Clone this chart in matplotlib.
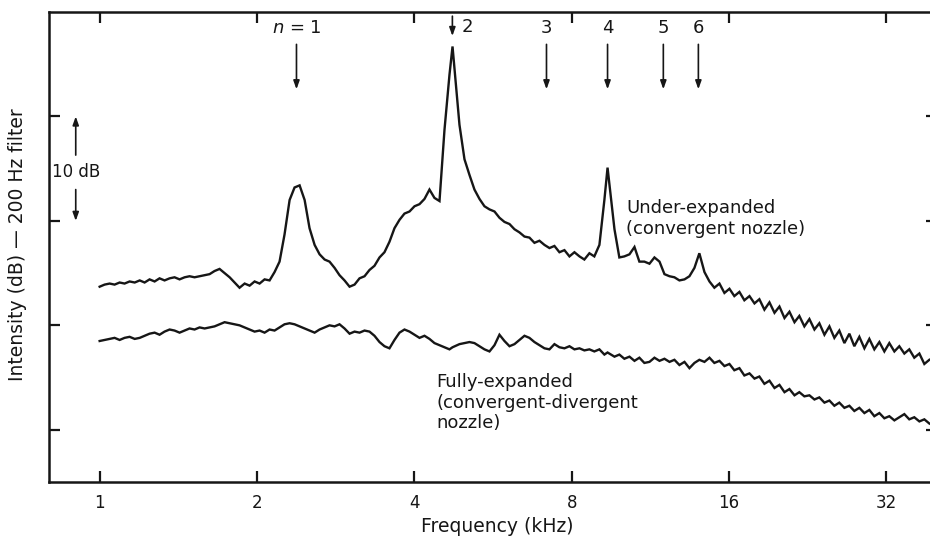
import matplotlib
matplotlib.use("Agg")
import matplotlib.pyplot as plt
from matplotlib.ticker import FixedLocator, FixedFormatter, NullLocator

# ---------------- data ----------------
freq_khz = [
    1.000, 1.022, 1.045, 1.068, 1.092, 1.116, 1.141, 1.167, 1.193, 1.219,
    1.246, 1.274, 1.302, 1.331, 1.361, 1.391, 1.422, 1.454, 1.486, 1.519,
    1.553, 1.588, 1.623, 1.659, 1.696, 1.734, 1.773, 1.812, 1.852, 1.894,
    1.936, 1.979, 2.023, 2.068, 2.114, 2.161, 2.209, 2.258, 2.309, 2.360,
    2.413, 2.467, 2.521, 2.578, 2.635, 2.694, 2.753, 2.815, 2.877, 2.941,
    3.007, 3.074, 3.142, 3.212, 3.283, 3.356, 3.431, 3.507, 3.585, 3.665,
    3.747, 3.830, 3.916, 4.003, 4.092, 4.183, 4.276, 4.371, 4.469, 4.568,
    4.670, 4.733, 4.880, 4.989, 5.100, 5.213, 5.330, 5.448, 5.570, 5.694,
    5.820, 5.950, 6.083, 6.218, 6.356, 6.498, 6.642, 6.790, 6.941, 7.096,
    7.254, 7.415, 7.580, 7.749, 7.922, 8.098, 8.28, 8.46, 8.65, 8.84,
    9.04, 9.24, 9.37, 9.66, 9.87, 10.09, 10.32, 10.55, 10.78, 11.02,
    11.27, 11.52, 11.78, 12.04, 12.31, 12.58, 12.86, 13.15, 13.44, 13.74,
    14.04, 14.36, 14.68, 15.00, 15.34, 15.68, 16.03, 16.38, 16.75, 17.12,
    17.51, 17.90, 18.29, 18.70, 19.12, 19.55, 19.98, 20.43, 20.88, 21.35,
    21.81, 22.30, 22.80, 23.31, 23.82, 24.36, 24.90, 25.45, 26.01, 26.60,
    27.19, 27.79, 28.41, 29.05, 29.69, 30.35, 31.03, 31.72, 32.42, 33.15,
    33.88, 34.64, 35.40, 36.19, 37.01, 37.83, 38.67,
]

under_expanded_db = [
    23.7, 23.9, 24.0, 23.9, 24.1, 24.0, 24.2, 24.1, 24.3, 24.1,
    24.4, 24.2, 24.5, 24.3, 24.5, 24.6, 24.4, 24.6, 24.7, 24.6,
    24.7, 24.8, 24.9, 25.2, 25.4, 25.0, 24.6, 24.1, 23.6, 24.0,
    23.8, 24.2, 24.0, 24.4, 24.3, 25.1, 26.1, 28.7, 32.0, 33.2,
    33.4, 32.0, 29.3, 27.7, 26.8, 26.3, 26.1, 25.5, 24.8, 24.3,
    23.7, 23.9, 24.5, 24.7, 25.3, 25.7, 26.5, 27.0, 28.0, 29.3,
    30.1, 30.7, 30.9, 31.4, 31.6, 32.1, 33.0, 32.2, 31.9, 38.7,
    44.0, 46.7, 39.2, 35.9, 34.4, 33.0, 32.1, 31.4, 31.1, 30.9,
    30.3, 29.9, 29.7, 29.2, 28.9, 28.5, 28.4, 27.9, 28.1, 27.7,
    27.4, 27.6, 27.0, 27.2, 26.6, 27.0, 26.6, 26.3, 26.9, 26.6,
    27.7, 32.0, 35.1, 29.2, 26.5, 26.6, 26.8, 27.5, 26.1, 26.1,
    25.9, 26.5, 26.1, 24.9, 24.7, 24.6, 24.3, 24.4, 24.7, 25.5,
    26.9, 25.1, 24.2, 23.6, 24.0, 23.1, 23.5, 22.8, 23.2, 22.4,
    22.8, 22.1, 22.5, 21.5, 22.2, 21.2, 21.8, 20.7, 21.3, 20.3,
    20.9, 19.9, 20.6, 19.6, 20.2, 19.1, 19.9, 18.8, 19.5, 18.3,
    19.2, 18.0, 18.9, 17.8, 18.7, 17.7, 18.4, 17.5, 18.3, 17.5,
    18.0, 17.3, 17.7, 16.9, 17.3, 16.3, 16.7,
]

fully_expanded_db = [
    18.5, 18.6, 18.7, 18.8, 18.6, 18.8, 18.9, 18.7, 18.8, 19.0,
    19.2, 19.3, 19.1, 19.4, 19.6, 19.5, 19.3, 19.5, 19.7, 19.6,
    19.8, 19.7, 19.8, 19.9, 20.1, 20.3, 20.2, 20.1, 20.0, 19.8,
    19.6, 19.4, 19.5, 19.3, 19.6, 19.5, 19.8, 20.1, 20.2, 20.1,
    19.9, 19.7, 19.5, 19.3, 19.6, 19.8, 20.0, 19.9, 20.1, 19.7,
    19.2, 19.4, 19.3, 19.5, 19.4, 19.0, 18.4, 18.0, 17.8, 18.6,
    19.3, 19.6, 19.4, 19.1, 18.8, 19.0, 18.7, 18.3, 18.1, 17.9,
    17.7, 17.9, 18.2, 18.3, 18.4, 18.3, 18.0, 17.7, 17.5, 18.1,
    19.1, 18.5, 18.0, 18.2, 18.6, 19.0, 18.8, 18.4, 18.1, 17.8,
    17.7, 18.2, 17.9, 17.8, 18.0, 17.7, 17.8, 17.6, 17.7, 17.5,
    17.7, 17.2, 17.4, 17.0, 17.2, 16.8, 17.0, 16.6, 16.9, 16.4,
    16.5, 16.9, 16.6, 16.8, 16.5, 16.7, 16.2, 16.5, 15.9, 16.4,
    16.7, 16.5, 16.9, 16.4, 16.6, 16.1, 16.3, 15.7, 15.9, 15.2,
    15.4, 14.9, 15.1, 14.4, 14.7, 14.0, 14.3, 13.6, 13.9, 13.3,
    13.6, 13.2, 13.3, 12.9, 13.1, 12.6, 12.8, 12.3, 12.6, 12.1,
    12.3, 11.8, 12.1, 11.6, 11.9, 11.3, 11.6, 11.1, 11.3, 10.9,
    11.2, 11.5, 11.0, 11.2, 10.8, 11.0, 10.6,
]

harmonic_labels = [r"$n$ = 1", "2", "3", "4", "5", "6"]
harmonic_freqs = [2.38, 4.73, 7.16, 9.37, 11.98, 13.98]

xtick_values = [1, 2, 4, 8, 16, 32]
xtick_labels = ["1", "2", "4", "8", "16", "32"]
ytick_values = [10, 20, 30, 40]

# ---------------- figure ----------------
W, H = 930, 541
fig = plt.figure(figsize=(W / 100, H / 100), dpi=100)
fig.patch.set_facecolor("white")
ax = fig.add_axes([49 / W, (H - 482) / H, (937 - 49) / W, (482 - 12) / H])

ink = "#161616"
ax.plot(freq_khz, under_expanded_db, color=ink, lw=1.7, solid_joinstyle="miter")
ax.plot(freq_khz, fully_expanded_db, color=ink, lw=1.7, solid_joinstyle="miter")

ax.set_xscale("log")
ax.set_xlim(0.8, 40)
ax.set_ylim(5, 50)

ax.xaxis.set_major_locator(FixedLocator(xtick_values))
ax.xaxis.set_major_formatter(FixedFormatter(xtick_labels))
ax.xaxis.set_minor_locator(NullLocator())
ax.yaxis.set_major_locator(FixedLocator(ytick_values))
ax.yaxis.set_minor_locator(NullLocator())
ax.tick_params(axis="both", which="major", direction="in", length=8, width=1.6,
               top=True, right=True, labelleft=False, color=ink,
               labelsize=12, labelcolor=ink)
ax.tick_params(axis="x", pad=9)
for sp in ax.spines.values():
    sp.set_linewidth(1.8)
    sp.set_color(ink)

arrow_style = "-|>,head_length=0.5,head_width=0.18"

# harmonic arrows
for lab, f in zip(harmonic_labels, harmonic_freqs):
    if lab == "2":
        ax.annotate("", xy=(f, 47.7), xytext=(f, 49.6),
                    arrowprops=dict(arrowstyle=arrow_style,
                                    color=ink, lw=1.2, shrinkA=0, shrinkB=0))
        ax.text(f * 1.07, 48.6, lab, ha="center", va="center", fontsize=13, color=ink)
    else:
        ax.annotate("", xy=(f, 42.6), xytext=(f, 46.9),
                    arrowprops=dict(arrowstyle=arrow_style,
                                    color=ink, lw=1.2, shrinkA=0, shrinkB=0))
        ax.text(f, 48.5, lab, ha="center", va="center", fontsize=13, color=ink)

# 10 dB scale bar
ax.annotate("", xy=(0.9, 40.0), xytext=(0.9, 36.3),
            arrowprops=dict(arrowstyle=arrow_style,
                            color=ink, lw=1.2, shrinkA=0, shrinkB=0))
ax.annotate("", xy=(0.9, 30.0), xytext=(0.9, 33.0),
            arrowprops=dict(arrowstyle=arrow_style,
                            color=ink, lw=1.2, shrinkA=0, shrinkB=0))
ax.text(0.812, 34.7, "10 dB", ha="left", va="center", fontsize=12, color=ink)

# curve labels
ax.text(10.18, 30.2, "Under-expanded\n(convergent nozzle)", ha="left", va="center",
        fontsize=13, color=ink, linespacing=1.2)
ax.text(4.41, 12.6, "Fully-expanded\n(convergent-divergent\nnozzle)", ha="left",
        va="center", fontsize=13, color=ink, linespacing=1.2)

fig.text(18 / W, 1 - 245 / H, "Intensity (dB) \u2014 200 Hz filter", rotation=90,
         ha="center", va="center", fontsize=13.5, color=ink)
fig.text(497 / W, 1 - 527 / H, "Frequency (kHz)", ha="center", va="center",
         fontsize=13.5, color=ink)

fig.savefig("out.png", dpi=100, facecolor="white")
